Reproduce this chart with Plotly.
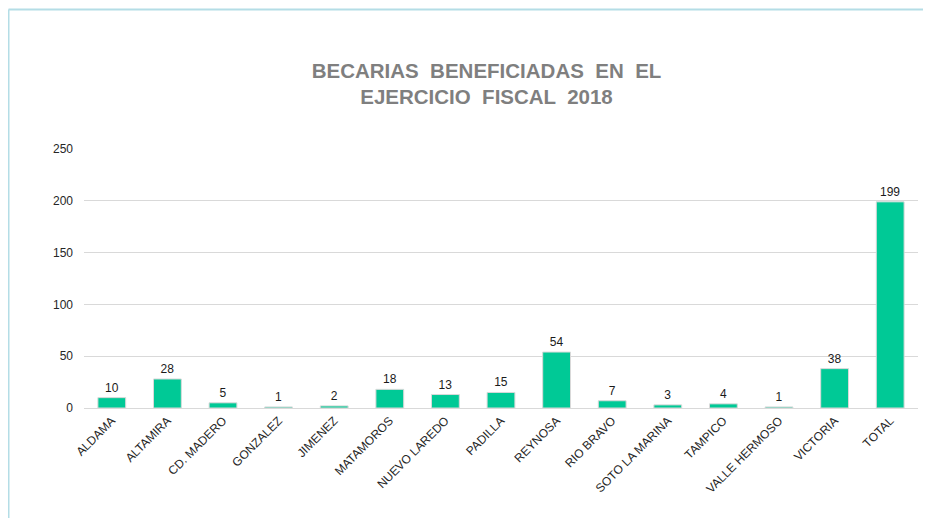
import plotly.graph_objects as go

categories = ["ALDAMA", "ALTAMIRA", "CD. MADERO", "GONZALEZ", "JIMENEZ", "MATAMOROS",
              "NUEVO LAREDO", "PADILLA", "REYNOSA", "RIO BRAVO", "SOTO LA MARINA",
              "TAMPICO", "VALLE HERMOSO", "VICTORIA", "TOTAL"]
values = [10, 28, 5, 1, 2, 18, 13, 15, 54, 7, 3, 4, 1, 38, 199]
y_ticks = [0, 50, 100, 150, 200, 250]

W, H = 923, 510
L, R, T, B = 76, 13, 141, 110
pw, ph = W - L - R, H - T - B

def px_x(x):
    return (x - L) / pw

def px_y(y):
    return (H - B - y) / ph

fig = go.Figure(go.Bar(
    x=categories, y=values,
    marker=dict(color="#00C996", line=dict(color="#D9D9D9", width=1)),
    text=[str(v) for v in values], textposition="outside",
    textfont=dict(family="Arial, Liberation Sans", size=12, color="#1a1a1a"),
    cliponaxis=False,
))

fig.update_layout(
    width=W, height=H,
    margin=dict(l=L, r=R, t=T, b=B),
    paper_bgcolor="white", plot_bgcolor="white",
    bargap=0.5,
    showlegend=False,
    title=dict(text="BECARIAS  BENEFICIADAS  EN  EL<br>EJERCICIO  FISCAL  2018",
               xref="container", x=478.5 / W, xanchor="center",
               yref="container", y=1 - 69.5 / H, yanchor="middle",
               font=dict(family="Arial, Liberation Sans", size=20.5, color="#7F7F7F", weight="bold")),
    font=dict(family="Arial, Liberation Sans", size=12, color="#262626"),
    shapes=[
        dict(type="line", xref="paper", yref="paper", x0=px_x(0.5), x1=px_x(W), y0=px_y(1.5), y1=px_y(1.5),
             line=dict(color="#B4DDE6", width=2)),
        dict(type="line", xref="paper", yref="paper", x0=px_x(0.5), x1=px_x(0.5), y0=px_y(1.5), y1=px_y(H),
             line=dict(color="#B4DDE6", width=2)),
    ],
)
fig.update_xaxes(tickangle=-45, showline=True, linecolor="#D9D9D9", linewidth=1,
                 tickfont=dict(size=12, color="#262626"), ticks="")
fig.update_yaxes(range=[0, 250], tickvals=y_ticks, gridcolor="#D9D9D9", gridwidth=1,
                 zeroline=False, tickfont=dict(size=12, color="#262626"), ticklabelstandoff=10)

fig.write_html("out.html")
